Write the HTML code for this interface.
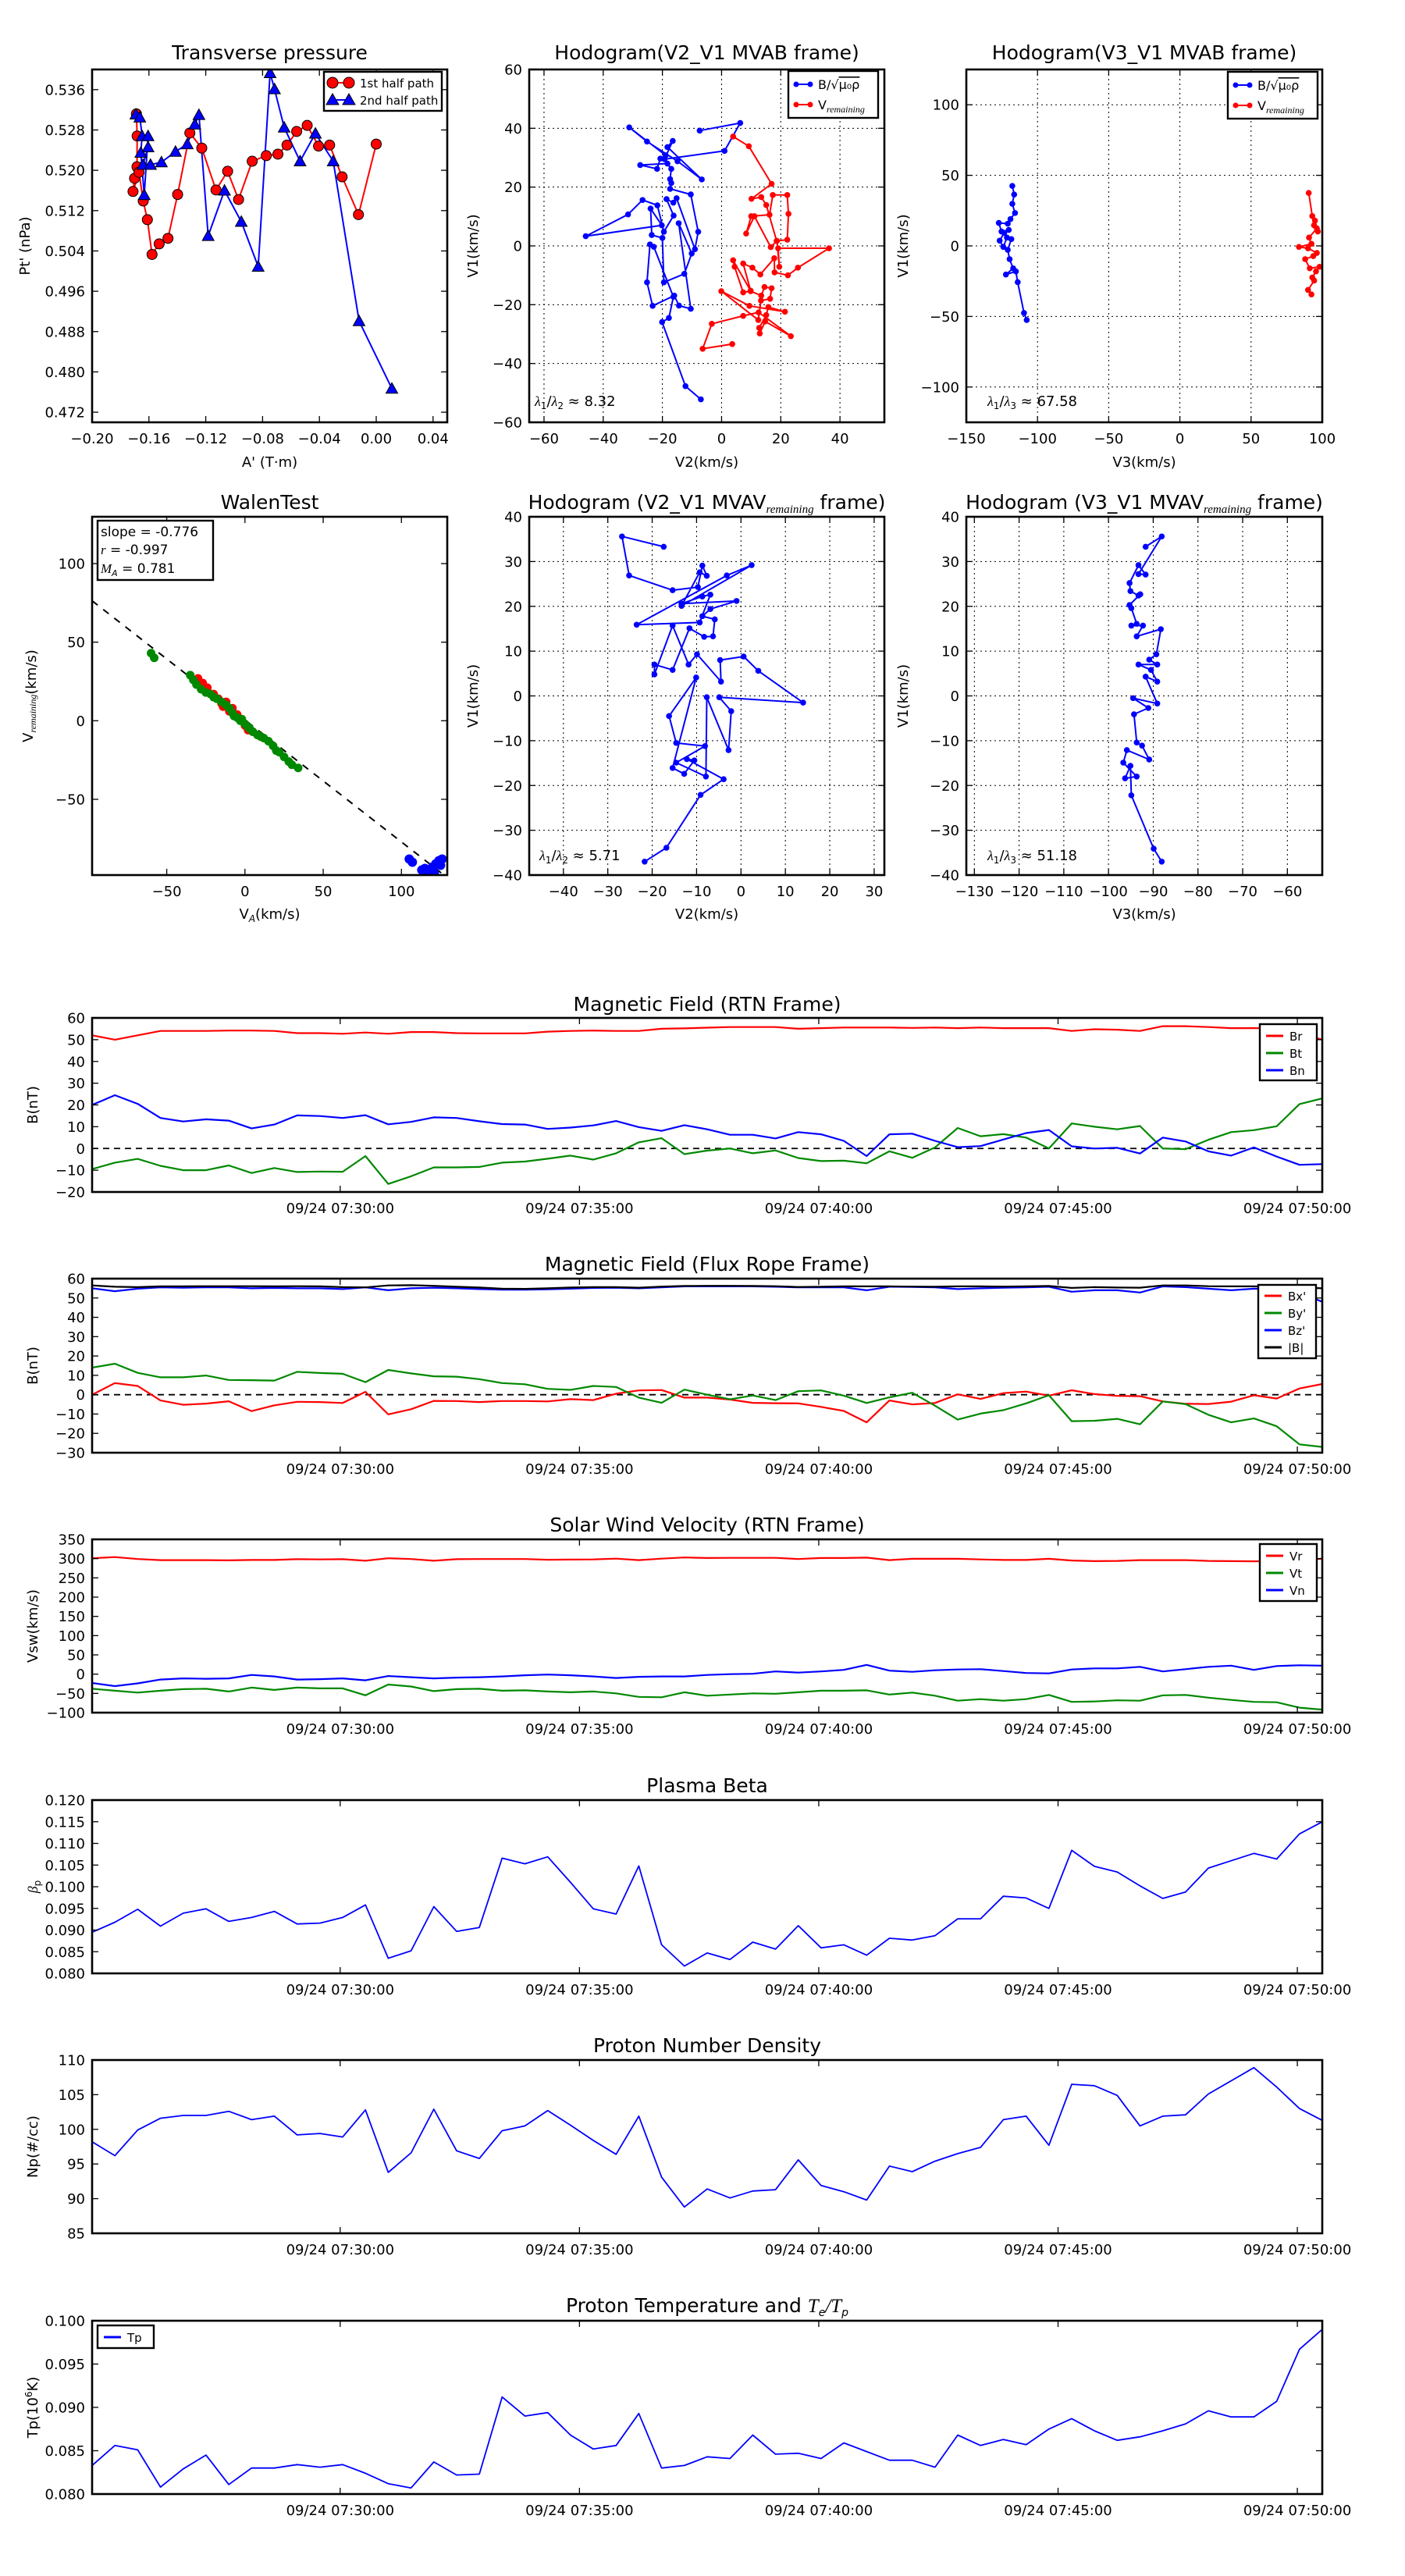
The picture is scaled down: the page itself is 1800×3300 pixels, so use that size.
<!DOCTYPE html>
<html><head><meta charset="utf-8"><title>Flux rope analysis</title>
<style>
html,body{margin:0;padding:0;background:#fff;}
svg{display:block;font-family:"DejaVu Sans","Liberation Sans",sans-serif;}
</style></head>
<body>
<svg id="fig" width="1800" height="3300" viewBox="0 0 1800 3300" xmlns="http://www.w3.org/2000/svg">
<rect x="0" y="0" width="1800" height="3300" fill="#fff"/>
</svg>
<script>
// ---------- data ----------
const tpRedA=[-0.1688,-0.1683,-0.1684,-0.1701,-0.1712,-0.1670,-0.1640,-0.1611,-0.1578,-0.1528,-0.1466,-0.1398,-0.1312,-0.1228,-0.1128,-0.1046,-0.0969,-0.0873,-0.0774,-0.0692,-0.0628,-0.0560,-0.0486,-0.0406,-0.0328,-0.0240,-0.0125,0.0000];
const tpRedP=[0.5312,0.5268,0.5207,0.5184,0.5158,0.5196,0.5139,0.5102,0.5033,0.5054,0.5065,0.5152,0.5274,0.5244,0.5161,0.5198,0.5142,0.5218,0.5229,0.5232,0.5250,0.5277,0.5289,0.5248,0.5250,0.5187,0.5112,0.5252];
const tpBlueA=[-0.1692,-0.1664,-0.1648,-0.1657,-0.1633,-0.1606,-0.1606,-0.1642,-0.1589,-0.1512,-0.1413,-0.1330,-0.1277,-0.1248,-0.1183,-0.1068,-0.0950,-0.0831,-0.0747,-0.0716,-0.0648,-0.0536,-0.0428,-0.0303,-0.0121,0.0110];
const tpBlueP=[0.5311,0.5305,0.5268,0.5235,0.5151,0.5268,0.5246,0.5211,0.5211,0.5216,0.5237,0.5252,0.5291,0.5310,0.5070,0.5160,0.5098,0.5009,0.5393,0.5361,0.5285,0.5218,0.5273,0.5218,0.4901,0.4767];

const h1BV2=[-7.4,6.3,1.0,-19.3,-16.5,-18.3,-6.7,-14.9,-25.2,-31.2,-18.9,-20.7,-21.8,-27.5,-18.3,-17.0,-17.4,-17.0,-17.4,-10.4,-7.9,-9.0,-15.2,-16.3,-18.6,-16.2,-19.5,-21.7,-26.7,-31.6,-45.9,-20.2,-24.0,-23.6,-20.0,-19.5,-12.6,-10.1,-14.5,-10.4,-14.4,-16.0,-23.3,-25.2,-24.2,-22.9,-16.3,-17.8,-20.1,-12.2,-7.0];
const h1BV1=[39.2,41.8,32.3,29.5,35.7,33.6,22.6,28.8,35.5,40.3,30.8,29.7,26.2,27.5,28.0,26.2,22.7,21.4,19.4,17.5,4.8,-1.1,16.2,14.7,15.9,10.3,4.8,13.8,15.6,10.7,3.3,7.0,12.7,3.7,2.7,-12.4,-9.5,-2.6,7.7,-21.4,-20.3,-16.9,-20.4,-12.4,0.5,-0.3,-17.3,-24.5,-25.9,-47.7,-52.2];
const h1VV2=[3.6,-6.4,-3.3,7.3,12.5,23.4,14.7,12.9,12.7,15.1,15.8,21.4,9.4,-0.1,12.4,13.3,16.4,16.9,14.5,13.4,9.8,7.3,4.4,3.9,9.8,7.3,10.4,13.1,17.8,17.9,22.4,25.8,36.3,19.1,19.5,18.7,16.6,11.1,8.3,10.0,16.2,17.3,22.2,22.6,22.2,18.6,15.1,13.4,10.1,16.9,9.2,3.9];
const h1VV1=[-33.4,-35.0,-26.5,-23.8,-22.6,-30.7,-25.7,-29.8,-27.9,-23.5,-20.8,-22.4,-20.4,-15.4,-25.2,-18.6,-18.0,-14.4,-14.0,-16.9,-15.4,-15.8,-7.1,-4.9,-15.2,-6.0,-7.4,-9.7,-4.2,-9.0,-10.0,-7.4,-0.8,-0.8,-7.1,1.7,-0.4,10.1,4.2,10.1,10.6,17.3,17.3,10.9,2.1,1.7,13.9,16.6,16.0,21.1,33.9,37.2];

const h3BV3=[-117.7,-116.4,-117.7,-115.8,-119.0,-120.9,-127.2,-125.3,-120.2,-123.4,-126.6,-124.0,-121.5,-118.4,-120.9,-119.6,-117.1,-122.2,-115.2,-113.9,-109.5,-107.6];
const h3BV1=[42.5,36.4,29.8,23.3,19.0,15.7,16.3,10.2,11.3,9.2,3.7,-0.7,5.9,4.8,-2.8,-9.4,-15.9,-20.3,-18.1,-25.7,-47.5,-52.5];
const h3VV3=[90.5,93.0,94.2,96.9,94.9,96.2,90.7,92.4,83.6,90.0,96.2,93.7,88.0,91.2,98.1,95.6,93.0,94.3,90.0,92.4];
const h3VV1=[37.5,21.1,14.6,10.2,17.9,12.4,5.9,1.5,-0.7,-1.7,-5.0,-7.2,-9.4,-15.9,-14.8,-18.1,-22.4,-24.6,-31.2,-34.4];

const walenGreenVA=[-60,-58,-35,-33,-31,-28,-25,-22,-20,-18,-15,-12,-10,-8,-7,-5,-3,-2,0,2,3,5,8,10,12,15,18,20,22,25,28,30,34];
const walenGreenVR=[43,40,29,26,23,20,18,17,15,14,12,10,8,5,3,2,0,1,-2,-4,-5,-7,-9,-10,-11,-13,-16,-19,-20,-23,-26,-28,-30];
const walenRedVA=[-30,-27,-24,-20,-17,-15,-14,-12,-10,-8,-5,-2,0,2,5,8,10];
const walenRedVR=[27,24,21,17,14,11,9,12,6,8,4,0,-3,-6,-7,-9,-10];
const walenBlueVA=[105,107,113,115,117,118,120,121,122,124,125,126];
const walenBlueVR=[-88,-90,-95,-94,-97,-96,-93,-97,-91,-89,-92,-88];
const walenSlope=-0.776, walenIntercept=0.5;

const h2V2=[-17.4,-26.8,-25.2,-15.4,-9.7,-8.7,-7.7,-9.3,-13.4,2.4,-3.2,-23.5,-9.3,-6.9,-8.7,-13.4,-1.0,-6.9,-8.7,-5.9,-6.3,-8.3,-11.6,-15.4,-19.5,-19.5,-15.4,-11.8,-9.9,-4.5,-4.7,0.6,3.9,14.0,-4.9,-2.2,-2.8,-7.7,-7.9,-14.6,-8.1,-14.6,-16.2,-10.1,-15.4,-12.8,-10.5,-12.2,-3.9,-9.1,-16.8,-21.7];
const h2V1=[33.3,35.6,26.9,23.6,24.3,29.1,26.8,27.6,20.1,29.2,26.9,15.9,16.4,22.6,22.2,20.6,21.2,19.4,17.8,17.1,13.3,13.2,15.1,5.8,7.0,4.8,15.7,7.0,9.3,3.2,8.0,8.8,5.6,-1.5,-0.3,-3.4,-12.1,-0.3,-18.0,-14.9,-11.2,-10.5,-4.5,4.1,-16.1,-17.4,-14.4,-14.1,-18.6,-22.1,-33.9,-37.0];
const h4V3=[-91.7,-88.1,-93.3,-91.7,-93.3,-95.3,-95.1,-93.3,-92.9,-95.3,-94.9,-93.7,-94.9,-92.3,-93.7,-88.3,-89.3,-90.9,-89.1,-93.3,-90.5,-89.1,-91.7,-89.1,-94.5,-91.1,-94.3,-93.7,-92.5,-90.9,-95.9,-96.7,-93.7,-96.3,-95.1,-94.9,-89.9,-88.1];
const h4V1=[33.3,35.6,27.2,27.1,29.2,25.2,23.4,22.4,22.7,20.3,19.6,16.1,15.7,15.7,13.3,14.9,9.3,8.1,7.0,7.0,5.8,3.2,4.3,-1.7,-0.5,-2.7,-4.1,-10.4,-11.1,-14.2,-12.1,-14.9,-18.0,-18.4,-15.6,-22.2,-34.1,-37.0];

// time series (one sample every ~28.6 s starting ~07:24:49)
const tStart=26689, tStep=28.56;
const timeTicks=["07:30:00","07:35:00","07:40:00","07:45:00","07:50:00"];
const Br=[52,50,52,54,54,54,54.2,54.2,54,53,53,52.7,53.3,52.7,53.5,53.5,53,52.9,52.9,52.9,53.7,54,54.2,54,54,55,55.2,55.5,55.8,55.8,55.8,55,55.3,55.6,55.6,55.6,55.4,55.6,55.3,55.6,55.3,55.3,55.3,54,54.8,54.6,54,56.2,56.2,55.8,55.3,55.3,55.3,53,50];
const Bt=[-9.5,-6.5,-4.8,-8,-10,-10,-7.8,-11.3,-9,-10.8,-10.6,-10.7,-3.5,-16.3,-12.8,-8.7,-8.7,-8.5,-6.5,-6,-4.7,-3.3,-5.1,-2.2,2.8,4.7,-2.6,-1,0,-2.2,-0.9,-4.4,-5.8,-5.6,-6.8,-1.3,-4.3,0.5,9.4,5.6,6.6,5,0,11.5,10,8.8,10.3,0,-0.3,4,7.5,8.4,10.2,20.4,23];
const Bn=[20,24.5,20.5,14,12.4,13.4,12.8,9.2,11,15.2,14.9,14,15.3,11.1,12.2,14.3,14,12.5,11.2,11,9,9.6,10.6,12.6,9.8,8.1,10.7,8.8,6.3,6.3,4.6,7.5,6.5,3.5,-3.5,6.5,6.8,3.5,0.6,1.1,4.1,7.1,8.5,1,0,0.3,-2.3,5,3.2,-1.3,-3.3,0.5,-3.7,-7.5,-7.2];
const Bx=[0,6,4.5,-3,-5.2,-4.6,-3.4,-8.5,-5.5,-3.7,-3.8,-4.3,1.5,-10.2,-7.5,-3.2,-3.3,-3.8,-3.3,-3.3,-3.5,-2.3,-2.8,0.5,2.2,2.4,-1.5,-1.5,-2.5,-4.2,-4.4,-4.5,-6.3,-8.4,-14.3,-3,-5,-4.3,0.2,-2.2,0.8,1.6,-0.5,2.3,0.3,-0.6,-0.8,-3.5,-4.7,-4.8,-3.6,-0.3,-2,3.2,5.5];
const By=[14,16,11.3,9,9,9.9,7.6,7.5,7.3,11.8,11.2,10.8,6.5,12.8,11,9.5,9.3,8,6,5.4,3,2.5,4.5,4,-1.5,-4.2,2.6,0,-2.4,-0.4,-2.8,1.8,2.2,-0.5,-4.3,-1.4,1,-5.7,-12.9,-9.8,-8,-4.5,-0.3,-13.7,-13.5,-12.5,-15.3,-3.5,-4.9,-10.4,-14.3,-12.3,-16.3,-25.7,-27];
const Bz=[55,53.5,54.8,55.5,55.3,55.5,55.5,55,55.2,55,55,54.6,55.5,54,55,55.3,55,54.6,54.3,54.3,54.5,54.8,55.2,55.3,55,55.5,56,56,56,56,55.8,55.5,55.5,55.5,54,55.8,55.7,55.5,54.6,55,55.3,55.5,55.8,53.2,54,54,52.8,56,55.6,54.8,54,54.8,54.6,53,48];
const Bmag=[56.5,55.8,55.6,56,56,56.1,56.1,56.1,56,56.1,56,55.6,55.5,56.5,56.6,56.3,55.8,55.4,54.8,54.7,55,55.4,55.6,55.6,55.3,55.9,56.2,56.3,56.3,56.2,56.1,55.7,55.8,56,56,56,55.9,55.8,56,56,55.9,56,56.2,55.2,55.6,55.4,55.3,56.5,56.5,56.1,56,56,56,55.5,55];
const Vr=[301,304,299,296,296,296,295.5,296.5,296.5,298.5,298,298.5,294.5,301,299,294.5,298.5,299,299,299,297,297.5,298,300,296,300,303,301.5,302,302,302,299,301.5,301.5,302.5,296,299.5,299.5,299.5,298,296.5,296.5,299.5,295,293.5,294,296,296,296,294,293.5,293,293.5,295,300];
const Vt=[-38,-43,-48,-43,-39,-38,-45,-35,-41,-35,-37,-37,-55,-27,-32,-44,-39,-38,-43,-42,-45,-47,-45,-50,-59,-60,-47,-56,-53,-50,-51,-47,-43,-43,-42,-53,-48,-56,-69,-65,-69,-65,-54,-72,-71,-68,-69,-55,-54,-61,-67,-72,-73,-87,-92];
const Vn=[-23,-31,-24,-14,-11,-12,-11,-2,-6,-14,-13,-11,-16,-5,-8,-11,-9,-8,-6,-3,-1,-3,-6,-10,-7,-6,-6,-2,0,1,7,4,7,11,24,9,6,10,12,13,8,3,2,12,15,15,19,7,13,19,22,11,21,23,22];
const betaP=[0.0895,0.0918,0.0948,0.0909,0.0939,0.0949,0.0920,0.0929,0.0943,0.0914,0.0916,0.0929,0.0958,0.0835,0.0852,0.0954,0.0897,0.0906,0.1066,0.1053,0.1069,0.1010,0.0949,0.0937,0.1048,0.0866,0.0817,0.0847,0.0832,0.0872,0.0856,0.0910,0.0859,0.0866,0.0842,0.0881,0.0877,0.0887,0.0926,0.0926,0.0978,0.0974,0.0950,0.1084,0.1047,0.1034,0.1002,0.0973,0.0988,0.1043,0.1060,0.1077,0.1064,0.1122,0.1150];
const Np=[98.2,96.2,99.9,101.6,102,102,102.6,101.4,101.9,99.2,99.4,98.9,102.8,93.8,96.6,102.9,96.9,95.8,99.8,100.5,102.7,100.6,98.4,96.4,101.9,93.1,88.8,91.4,90.1,91.1,91.3,95.6,91.9,91,89.8,94.7,93.9,95.4,96.5,97.4,101.4,101.9,97.7,106.5,106.3,104.9,100.5,101.9,102.1,105.1,107,108.9,106.1,103,101.3];
const Tp=[0.0833,0.0856,0.0851,0.0808,0.0829,0.0845,0.0811,0.0830,0.0830,0.0834,0.0831,0.0834,0.0824,0.0812,0.0807,0.0837,0.0822,0.0823,0.0912,0.0890,0.0894,0.0868,0.0852,0.0856,0.0893,0.0830,0.0833,0.0843,0.0841,0.0868,0.0846,0.0847,0.0841,0.0859,0.0849,0.0839,0.0839,0.0831,0.0868,0.0856,0.0863,0.0857,0.0875,0.0887,0.0873,0.0862,0.0866,0.0873,0.0881,0.0896,0.0889,0.0889,0.0907,0.0967,0.0990];

// ---------- helpers ----------
const NS="http://www.w3.org/2000/svg";
const fig=document.getElementById('fig');
let clipId=0;
function mk(tag,attrs,parent){const e=document.createElementNS(NS,tag);for(const k in attrs)e.setAttribute(k,attrs[k]);(parent||fig).appendChild(e);return e;}
function minus(s){return String(s).replace('-','\u2212');}
function makeAxes(name,b,xd,yd){
  const g=mk('g',{});
  
  
  const sx=v=>b.x0+(v-xd[0])/(xd[1]-xd[0])*(b.x1-b.x0);
  const sy=v=>b.y1-(v-yd[0])/(yd[1]-yd[0])*(b.y1-b.y0);
  clipId++;
  const cp=mk('clipPath',{id:'cp'+clipId},g);
  mk('rect',{x:b.x0,y:b.y0,width:b.x1-b.x0,height:b.y1-b.y0},cp);
  const plot=mk('g',{'clip-path':'url(#cp'+clipId+')'},g);
  
  
  return {g,plot,sx,sy,b};
}
function grid(ax,xt,yt){
  for(const v of xt){const l=mk('line',{x1:ax.sx(v),x2:ax.sx(v),y1:ax.b.y0,y2:ax.b.y1,stroke:'#000','stroke-width':1,'stroke-dasharray':'2,4'},ax.plot);
    
    }
  for(const v of yt){const l=mk('line',{x1:ax.b.x0,x2:ax.b.x1,y1:ax.sy(v),y2:ax.sy(v),stroke:'#000','stroke-width':1,'stroke-dasharray':'2,4'},ax.plot);
    
    }
}
function frame(ax,xt,xl,yt,yl){
  const b=ax.b,g=ax.g;
  xt.forEach((v,i)=>{const x=ax.sx(v);
    mk('line',{x1:x,x2:x,y1:b.y1,y2:b.y1-8,stroke:'#000','stroke-width':1.3},g);
    mk('line',{x1:x,x2:x,y1:b.y0,y2:b.y0+8,stroke:'#000','stroke-width':1.3},g);
    const t=mk('text',{x:x,y:b.y1+27,'font-size':18,'text-anchor':'middle'},g);t.textContent=xl[i];
    
    });
  yt.forEach((v,i)=>{const y=ax.sy(v);
    mk('line',{x1:b.x0,x2:b.x0+8,y1:y,y2:y,stroke:'#000','stroke-width':1.3},g);
    mk('line',{x1:b.x1,x2:b.x1-8,y1:y,y2:y,stroke:'#000','stroke-width':1.3},g);
    const t=mk('text',{x:b.x0-9,y:y+6.5,'font-size':18,'text-anchor':'end'},g);t.textContent=yl[i];
    
    });
  const r=mk('rect',{x:b.x0,y:b.y0,width:b.x1-b.x0,height:b.y1-b.y0,fill:'none',stroke:'#000','stroke-width':2.6},g);
  
  
}
function title(ax,html,y){const t=mk('text',{x:(ax.b.x0+ax.b.x1)/2,y:y,'font-size':25,'text-anchor':'middle'},ax.g);t.innerHTML=html;
  
  return t;}
function xlabel(ax,html,y){const t=mk('text',{x:(ax.b.x0+ax.b.x1)/2,y:y,'font-size':18,'text-anchor':'middle'},ax.g);t.innerHTML=html;
  
  }
function ylabel(ax,html,x){const cy=(ax.b.y0+ax.b.y1)/2;const t=mk('text',{x:x,y:cy,'font-size':18,'text-anchor':'middle',transform:'rotate(-90 '+x+' '+cy+')'},ax.g);t.innerHTML=html;
  
  }
function line(ax,xs,ys,color,w,name){const pts=xs.map((x,i)=>ax.sx(x).toFixed(1)+','+ax.sy(ys[i]).toFixed(1)).join(' ');
  const p=mk('polyline',{points:pts,fill:'none',stroke:color,'stroke-width':w,'stroke-linejoin':'round'},ax.plot);
  
  return p;}
function dots(ax,xs,ys,color,r,name,edge){xs.forEach((x,i)=>{const c=mk('circle',{cx:ax.sx(x),cy:ax.sy(ys[i]),r:r,fill:color,stroke:edge||color,'stroke-width':edge?1:0},ax.plot);
  
  });}
function tris(ax,xs,ys,color,s,name){xs.forEach((x,i)=>{const cx=ax.sx(x),cy=ax.sy(ys[i]);
  const p=mk('polygon',{points:`${cx},${cy-s} ${cx-s},${cy+s*0.8} ${cx+s},${cy+s*0.8}`,fill:color,stroke:'#000','stroke-width':1},ax.plot);
  
  });}
function legend(ax,x,y,w,h,entries,marker){
  const g=mk('g',{},ax.g);
  
  
  mk('rect',{x:x,y:y,width:w,height:h,fill:'#fff',stroke:'#000','stroke-width':2.4},g);
  entries.forEach((e,i)=>{const yy=y+e.dy;
    const it=mk('g',{},g);
    
    
    mk('line',{x1:x+8,x2:x+30,y1:yy,y2:yy,stroke:e.c,'stroke-width':marker==='none'?3:2},it);
    if(marker==='dot'){mk('circle',{cx:x+10,cy:yy,r:3.5,fill:e.c},it);mk('circle',{cx:x+28,cy:yy,r:3.5,fill:e.c},it);}
    if(marker==='mix'){
      if(e.m==='circle'){mk('circle',{cx:x+11,cy:yy,r:7,fill:e.c,stroke:'#000'},it);mk('circle',{cx:x+32,cy:yy,r:7,fill:e.c,stroke:'#000'},it);}
      else{[x+11,x+32].forEach(cx=>mk('polygon',{points:`${cx},${yy-8} ${cx-8},${yy+6} ${cx+8},${yy+6}`,fill:e.c,stroke:'#000'},it));}
    }
    const t=mk('text',{x:x+(marker==='mix'?46:38),y:yy+6,'font-size':e.fs||18},it);t.innerHTML=e.t;});
}
function ticks(a,b,s){const r=[];for(let v=a;v<=b+1e-9;v+=s)r.push(Math.round(v*1e6)/1e6);return r;}
function labels(arr,d){return arr.map(v=>minus(v.toFixed(d)));}
const SUBREM='<tspan font-size="12" font-style="italic" font-family="Liberation Serif" dy="4">remaining</tspan><tspan dy="-4"></tspan>';
function lam(ax,x,y,k,val){const t=mk('text',{x:x,y:y,'font-size':18},ax.g);
  t.innerHTML='<tspan font-style="italic" font-family="Liberation Serif">λ</tspan><tspan font-size="12" dy="4">1</tspan><tspan dy="-4">/</tspan><tspan font-style="italic" font-family="Liberation Serif">λ</tspan><tspan font-size="12" dy="4">'+k+'</tspan><tspan dy="-4"> ≈ '+val+'</tspan>';
  
  }

// ---------- Row 1 ----------
const R1={y0:89,y1:541};
const C1={x0:118,x1:573}, C2={x0:678,x1:1133}, C3={x0:1238,x1:1694};
{ // transverse pressure
  const ax=makeAxes('transverse-pressure-chart',{...C1,...R1},[-0.20,0.05],[0.470,0.540]);
  line(ax,tpRedA,tpRedP,'#f00',2,'first-half-path-line');
  line(ax,tpBlueA,tpBlueP,'#00f',2,'second-half-path-line');
  dots(ax,tpRedA,tpRedP,'#f00',6.5,'first-half-point','#000');
  tris(ax,tpBlueA,tpBlueP,'#00f',7.5,'second-half-point');
  const xt=ticks(-0.20,0.04,0.04),yt=ticks(0.472,0.536,0.008);
  frame(ax,xt,labels(xt,2),yt,labels(yt,3));
  title(ax,'Transverse pressure',76);
  xlabel(ax,"A' (T·m)",598);
  ylabel(ax,"Pt' (nPa)",38);
  legend(ax,415,92,151,50,[{t:'1st half path',c:'#f00',dy:14,fs:15,m:'circle'},{t:'2nd half path',c:'#00f',dy:36,fs:15,m:'tri'}],'mix');
}
{ // hodogram V2-V1 MVAB
  const ax=makeAxes('hodogram-v2-v1-mvab-chart',{...C2,...R1},[-65,55],[-60,60]);
  const xt=ticks(-60,40,20),yt=ticks(-60,60,20);
  grid(ax,xt,yt);
  line(ax,h1BV2,h1BV1,'#00f',2,'b-alfven-line');dots(ax,h1BV2,h1BV1,'#00f',3.8,'b-alfven-point');
  line(ax,h1VV2,h1VV1,'#f00',2,'v-remaining-line');dots(ax,h1VV2,h1VV1,'#f00',3.8,'v-remaining-point');
  frame(ax,xt,labels(xt,0),yt,labels(yt,0));
  title(ax,'Hodogram(V2_V1 MVAB frame)',76);
  xlabel(ax,'V2(km/s)',598);
  ylabel(ax,'V1(km/s)',612);
  legend(ax,1010,91,115,60,[{t:'B/√<tspan text-decoration="overline">μ₀ρ</tspan>',c:'#00f',dy:17,fs:16},{t:'V'+SUBREM,c:'#f00',dy:43,fs:16}],'dot');
  lam(ax,685,520,2,'8.32');
}
{ // hodogram V3-V1 MVAB
  const ax=makeAxes('hodogram-v3-v1-mvab-chart',{...C3,...R1},[-150,100],[-125,125]);
  const xt=ticks(-150,100,50),yt=ticks(-100,100,50);
  grid(ax,xt,yt);
  line(ax,h3BV3,h3BV1,'#00f',2,'b-alfven-line');dots(ax,h3BV3,h3BV1,'#00f',3.8,'b-alfven-point');
  line(ax,h3VV3,h3VV1,'#f00',2,'v-remaining-line');dots(ax,h3VV3,h3VV1,'#f00',3.8,'v-remaining-point');
  frame(ax,xt,labels(xt,0),yt,labels(yt,0));
  title(ax,'Hodogram(V3_V1 MVAB frame)',76);
  xlabel(ax,'V3(km/s)',598);
  ylabel(ax,'V1(km/s)',1163);
  legend(ax,1573,92,115,60,[{t:'B/√<tspan text-decoration="overline">μ₀ρ</tspan>',c:'#00f',dy:17,fs:16},{t:'V'+SUBREM,c:'#f00',dy:43,fs:16}],'dot');
  lam(ax,1265,520,3,'67.58');
}

// ---------- Row 2 ----------
const R2={y0:662,y1:1121};
{ // Walen test
  const xd=[-97.7,129.3];
  const ax=makeAxes('walen-test-chart',{...C1,...R2},xd,[-98.2,129.8]);
  const fit=mk('line',{x1:ax.sx(xd[0]),y1:ax.sy(walenSlope*xd[0]+walenIntercept),x2:ax.sx(xd[1]),y2:ax.sy(walenSlope*xd[1]+walenIntercept),stroke:'#000','stroke-width':2,'stroke-dasharray':'9,9'},ax.plot);
  
  
  dots(ax,walenRedVA,walenRedVR,'#f00',5.5,'walen-red-point');
  dots(ax,walenGreenVA,walenGreenVR,'#080',5.5,'walen-green-point');
  dots(ax,walenBlueVA,walenBlueVR,'#00f',6,'walen-blue-point');
  const xt=[-50,0,50,100],yt=[-50,0,50,100];
  frame(ax,xt,labels(xt,0),yt,labels(yt,0));
  title(ax,'WalenTest',652);
  xlabel(ax,'V<tspan font-size="12" font-style="italic" dy="4">A</tspan><tspan dy="-4">(km/s)</tspan>',1177);
  ylabel(ax,'V'+SUBREM+'(km/s)',42);
  const g=mk('g',{},ax.g);
  
  
  mk('rect',{x:125,y:667,width:148,height:76,fill:'#fff',stroke:'#000','stroke-width':2.4},g);
  const l1=mk('text',{x:129,y:687,'font-size':17},g);l1.textContent='slope = -0.776';
  const l2=mk('text',{x:129,y:710,'font-size':17},g);l2.innerHTML='<tspan font-style="italic" font-family="Liberation Serif">r</tspan> = -0.997';
  const l3=mk('text',{x:129,y:734,'font-size':17},g);l3.innerHTML='<tspan font-style="italic" font-family="Liberation Serif">M</tspan><tspan font-size="11" font-style="italic" dy="4">A</tspan><tspan dy="-4"> = 0.781</tspan>';
}
{ // hodogram V2 MVAV
  const ax=makeAxes('hodogram-v2-v1-mvav-chart',{...C2,...R2},[-47.7,32.3],[-40,40]);
  const xt=ticks(-40,30,10),yt=ticks(-40,40,10);
  grid(ax,xt,yt);
  line(ax,h2V2,h2V1,'#00f',2,'velocity-hodogram-line');dots(ax,h2V2,h2V1,'#00f',3.8,'velocity-hodogram-point');
  frame(ax,xt,labels(xt,0),yt,labels(yt,0));
  title(ax,'Hodogram (V2_V1 MVAV<tspan font-size="15" font-style="italic" font-family="Liberation Serif" dy="5">remaining</tspan><tspan dy="-5"> frame)</tspan>',652);
  xlabel(ax,'V2(km/s)',1177);
  ylabel(ax,'V1(km/s)',612);
  lam(ax,691,1102,2,'5.71');
}
{ // hodogram V3 MVAV
  const ax=makeAxes('hodogram-v3-v1-mvav-chart',{...C3,...R2},[-131.8,-52.2],[-40,40]);
  const xt=ticks(-130,-60,10),yt=ticks(-40,40,10);
  grid(ax,xt,yt);
  line(ax,h4V3,h4V1,'#00f',2,'velocity-hodogram-line');dots(ax,h4V3,h4V1,'#00f',3.8,'velocity-hodogram-point');
  frame(ax,xt,labels(xt,0),yt,labels(yt,0));
  title(ax,'Hodogram (V3_V1 MVAV<tspan font-size="15" font-style="italic" font-family="Liberation Serif" dy="5">remaining</tspan><tspan dy="-5"> frame)</tspan>',652);
  xlabel(ax,'V3(km/s)',1177);
  ylabel(ax,'V1(km/s)',1163);
  lam(ax,1265,1102,3,'51.18');
}

// ---------- time series ----------
function toSec(s){const p=s.split(':').map(Number);return p[0]*3600+p[1]*60+p[2];}
function tsPanel(name,y0,y1,yd,yt,yl,ttl,ttlY,ylab,series,zero,leg){
  const n=series[0].v.length;
  const times=series[0].v.map((_,i)=>tStart+i*tStep);
  const ax=makeAxes(name,{x0:118,x1:1694,y0:y0,y1:y1},[times[0],times[n-1]],yd);
  if(zero){const z=mk('line',{x1:118,x2:1694,y1:ax.sy(0),y2:ax.sy(0),stroke:'#000','stroke-width':1.8,'stroke-dasharray':'8,6'},ax.plot);
    
    }
  series.forEach(s=>line(ax,times,s.v,s.c,s.w||2.2,s.n));
  const xt=timeTicks.map(toSec);
  frame(ax,xt,timeTicks.map(t=>'09/24 '+t),yt,yl);
  title(ax,ttl,ttlY);
  ylabel(ax,ylab,48);
  if(leg)legend(ax,leg.x,leg.y,leg.w,leg.h,leg.e,'none');
  return ax;
}
tsPanel('magnetic-field-rtn-chart',1304,1527,[-20,60],ticks(-20,60,10),labels(ticks(-20,60,10),0),'Magnetic Field (RTN Frame)',1295,'B(nT)',
  [{v:Br,c:'#f00',n:'br-line'},{v:Bt,c:'#080',n:'bt-line'},{v:Bn,c:'#00f',n:'bn-line'}],true,
  {x:1614,y:1312,w:73,h:72,e:[{t:'Br',c:'#f00',dy:15,fs:15},{t:'Bt',c:'#080',dy:37,fs:15},{t:'Bn',c:'#00f',dy:59,fs:15}]});
tsPanel('magnetic-field-flux-rope-chart',1638,1861,[-30,60],ticks(-30,60,10),labels(ticks(-30,60,10),0),'Magnetic Field (Flux Rope Frame)',1628,'B(nT)',
  [{v:Bx,c:'#f00',n:'bx-line'},{v:By,c:'#080',n:'by-line'},{v:Bz,c:'#00f',n:'bz-line'},{v:Bmag,c:'#000',n:'b-magnitude-line'}],true,
  {x:1612,y:1646,w:74,h:94,e:[{t:"Bx'",c:'#f00',dy:14,fs:15},{t:"By'",c:'#080',dy:36,fs:15},{t:"Bz'",c:'#00f',dy:58,fs:15},{t:'|B|',c:'#000',dy:80,fs:15}]});
tsPanel('solar-wind-velocity-chart',1972,2194,[-100,350],ticks(-100,350,50),labels(ticks(-100,350,50),0),'Solar Wind Velocity (RTN Frame)',1962,'Vsw(km/s)',
  [{v:Vr,c:'#f00',n:'vr-line'},{v:Vt,c:'#080',n:'vt-line'},{v:Vn,c:'#00f',n:'vn-line'}],false,
  {x:1614,y:1978,w:73,h:73,e:[{t:'Vr',c:'#f00',dy:15,fs:15},{t:'Vt',c:'#080',dy:37,fs:15},{t:'Vn',c:'#00f',dy:59,fs:15}]});
tsPanel('plasma-beta-chart',2306,2528,[0.080,0.120],ticks(0.080,0.120,0.005),labels(ticks(0.080,0.120,0.005),3),'Plasma Beta',2296,'<tspan font-style="italic" font-family="Liberation Serif">β</tspan><tspan font-size="12" dy="4">p</tspan>',
  [{v:betaP,c:'#00f',w:1.8,n:'plasma-beta-line'}],false,null);
tsPanel('proton-density-chart',2639,2861,[85,110],ticks(85,110,5),labels(ticks(85,110,5),0),'Proton Number Density',2629,'Np(#/cc)',
  [{v:Np,c:'#00f',w:1.8,n:'proton-density-line'}],false,null);
tsPanel('proton-temperature-chart',2973,3195,[0.080,0.100],ticks(0.080,0.100,0.005),labels(ticks(0.080,0.100,0.005),3),
  'Proton Temperature and <tspan font-style="italic" font-family="Liberation Serif">T</tspan><tspan font-size="14" font-style="italic" dy="5">e</tspan><tspan dy="-5" font-style="italic" font-family="Liberation Serif">/T</tspan><tspan font-size="14" font-style="italic" dy="5">p</tspan>',2962,
  'Tp(10<tspan font-size="12" dy="-7">6</tspan><tspan dy="7">K)</tspan>',
  [{v:Tp,c:'#00f',w:1.8,n:'proton-temperature-line'}],false,
  {x:125,y:2979,w:72,h:29,e:[{t:'Tp',c:'#00f',dy:15,fs:15}]});
</script>
</body></html>
